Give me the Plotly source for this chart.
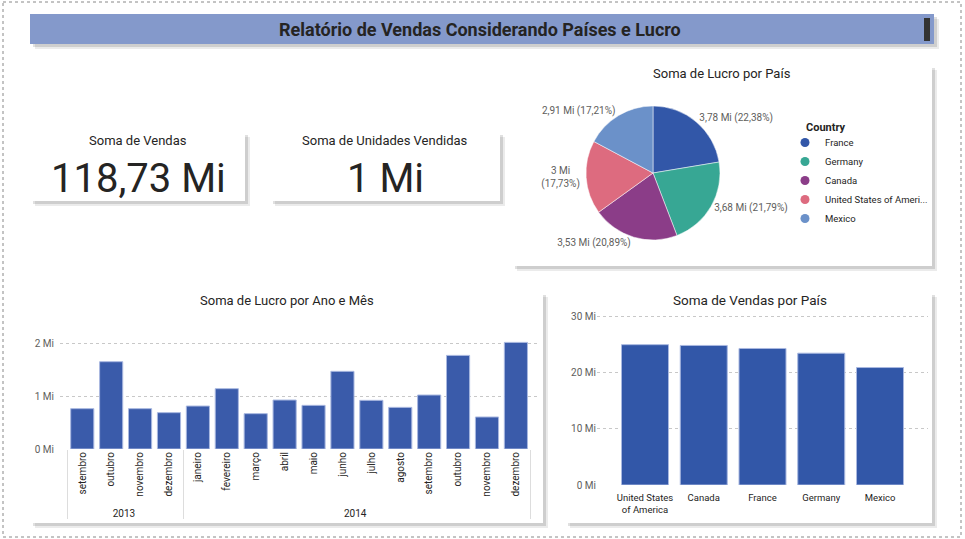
import plotly.graph_objects as go

W, H = 965, 539

# data
meses = ["setembro", "outubro", "novembro", "dezembro",
         "janeiro", "fevereiro", "março", "abril", "maio", "junho",
         "julho", "agosto", "setembro", "outubro", "novembro", "dezembro"]
anos = ["2013"] * 4 + ["2014"] * 12
lucro_mes = [0.766, 1.658, 0.766, 0.690, 0.816, 1.146, 0.671, 0.930,
             0.829, 1.475, 0.924, 0.791, 1.025, 1.778, 0.608, 2.025]

paises_vendas = ["United States of America", "Canada", "France", "Germany", "Mexico"]
rotulos_vendas = ["United States<br>of America", "Canada", "France", "Germany", "Mexico"]
vendas_pais = [25.03, 24.89, 24.35, 23.51, 20.95]

paises_lucro = ["France", "Germany", "Canada", "United States of America", "Mexico"]
legenda_lucro = ["France", "Germany", "Canada", "United States of Ameri...", "Mexico"]
lucro_pais = [3.782, 3.682, 3.530, 2.996, 2.908]
cores_pie = ["#3257A8", "#37A794", "#8B3D88", "#DD6B7F", "#6B91C9"]

soma_vendas = "118,73 Mi"
soma_unidades = "1 Mi"

BAR = "#3A5BAA"
TXT = "#252423"
AX = "#605E5C"
FONT = "Roboto, Open Sans, sans-serif"
DIN = "Roboto, sans-serif"


def px(x):
    return x / W


def py(y):
    return 1 - y / H


def card(shapes, x0, y0, x1, y1, fill="white"):
    for off, op in [(5, 0.08), (3, 0.12)]:
        shapes.append(dict(type="rect", xref="paper", yref="paper", layer="below",
                           x0=px(x0 + off), x1=px(x1 + off), y0=py(y0 + off), y1=py(y1 + off),
                           fillcolor="rgba(0,0,0,%s)" % op, line=dict(width=0)))
    shapes.append(dict(type="rect", xref="paper", yref="paper", layer="below",
                       x0=px(x0), x1=px(x1), y0=py(y0), y1=py(y1),
                       fillcolor=fill, line=dict(width=0)))


# multicategory axis keeps first-seen order of inner labels, so make the 2014 repeats distinct
meses_eixo = []
for m in meses:
    while m in meses_eixo:
        m = m + "\u200b"
    meses_eixo.append(m)

fig = go.Figure()

fig.add_trace(go.Bar(x=[anos, meses_eixo], y=lucro_mes,
                     marker=dict(color=BAR, line=dict(color="#A9B8E0", width=1)),
                     xaxis="x", yaxis="y", showlegend=False))

fig.add_trace(go.Bar(x=paises_vendas, y=vendas_pais,
                     marker=dict(color="#3257A8", line=dict(color="#A9B8E0", width=1)),
                     xaxis="x2", yaxis="y2", showlegend=False))

txt_tpl = ["%{value:.2~f} Mi (%{percent:.2%})"] * len(lucro_pais)
txt_tpl[3] = "%{value:.2~f} Mi<br>(%{percent:.2%})"
fig.add_trace(go.Pie(labels=paises_lucro, values=lucro_pais, sort=False, direction="clockwise",
                     marker=dict(colors=cores_pie, line=dict(color="white", width=0.5)),
                     textposition="outside", texttemplate=txt_tpl,
                     textfont=dict(size=10, color=AX, family=FONT),
                     domain=dict(x=[px(543), px(763)], y=[py(240), py(106)]),
                     showlegend=False))

# legend entries with round markers
for nome, cor in zip(legenda_lucro, cores_pie):
    fig.add_trace(go.Scatter(x=[None], y=[None], mode="markers", name=nome,
                             marker=dict(color=cor, size=9, symbol="circle"),
                             xaxis="x2", yaxis="y2"))

shapes = []
# page border
shapes.append(dict(type="rect", xref="paper", yref="paper", layer="below",
                   x0=px(3), x1=px(961), y0=py(2), y1=py(537),
                   line=dict(color="#888888", width=1, dash="dot")))
# header
card(shapes, 30, 14, 934, 44, fill="#8499CB")
shapes.append(dict(type="rect", xref="paper", yref="paper",
                   x0=px(924), x1=px(930), y0=py(18), y1=py(41),
                   fillcolor="#333333", line=dict(width=0)))
card(shapes, 30, 132, 245, 201)
card(shapes, 270, 132, 500, 201)
card(shapes, 512, 65, 932, 266)
card(shapes, 30, 292, 543, 523)
card(shapes, 565, 292, 932, 523)

ann = []


def texto(x, y, t, size, color=TXT, family=DIN, bold=False, xanchor="center"):
    if bold:
        t = "<b>" + t + "</b>"
    ann.append(dict(xref="paper", yref="paper", x=px(x), y=py(y), text=t, showarrow=False,
                    xanchor=xanchor, yanchor="middle", font=dict(size=size, color=color, family=family)))


texto(480, 30, "Relatório de Vendas Considerando Países e Lucro", 18, bold=True)
texto(138, 140, "Soma de Vendas", 13)
texto(385, 140, "Soma de Unidades Vendidas", 13)
texto(138, 178, soma_vendas, 40)
texto(385, 178, soma_unidades, 40)
texto(722, 74, "Soma de Lucro por País", 13)
texto(287, 300, "Soma de Lucro por Ano e Mês", 13)
texto(750, 300, "Soma de Vendas por País", 13.5)
texto(804, 127, "Country", 11, bold=True, xanchor="left")

fig.update_layout(
    width=W, height=H,
    margin=dict(l=0, r=0, t=0, b=0, autoexpand=False),
    paper_bgcolor="white", plot_bgcolor="rgba(0,0,0,0)",
    separators=",.",
    font=dict(family=FONT, color=AX, size=10),
    shapes=shapes, annotations=ann,
    bargap=0.2,
    legend=dict(x=px(785), y=py(128), xanchor="left", yanchor="top",
                bgcolor="rgba(0,0,0,0)", font=dict(size=9.5, color=TXT, family=FONT),
                itemclick=False),
    xaxis=dict(type="multicategory", domain=[px(60), px(537)], range=[-0.77, 15.73],
               anchor="y", tickangle=-90, showgrid=False, showline=False, ticks="",
               showdividers=True, dividercolor="#DDDDDD", dividerwidth=1, automargin=False,
               tickfont=dict(size=10, color=TXT, family=FONT)),
    yaxis=dict(domain=[py(449), py(320)], range=[0, 2.45], dtick=1, ticksuffix=" Mi",
               anchor="x", showgrid=True, gridcolor="#C8C8C8", griddash="dot", zeroline=False,
               ticks="", ticklabelstandoff=5, automargin=False,
               tickfont=dict(size=10, color=AX, family=FONT)),
    xaxis2=dict(type="category", domain=[px(597), px(928)], range=[-0.817, 4.817], anchor="y2",
                tickvals=paises_vendas, ticktext=rotulos_vendas, showgrid=False, ticks="",
                ticklabelstandoff=5, automargin=False,
                tickfont=dict(size=9.5, color=TXT, family=FONT)),
    yaxis2=dict(domain=[py(485), py(314)], range=[0, 30.5], dtick=10, ticksuffix=" Mi",
                anchor="x2", showgrid=True, gridcolor="#C8C8C8", griddash="dot", zeroline=False,
                ticks="", automargin=False,
                tickfont=dict(size=10, color=AX, family=FONT)),
)

fig.write_html("out.html", config={"displayModeBar": False},
               post_script="document.body.style.margin='0';")
